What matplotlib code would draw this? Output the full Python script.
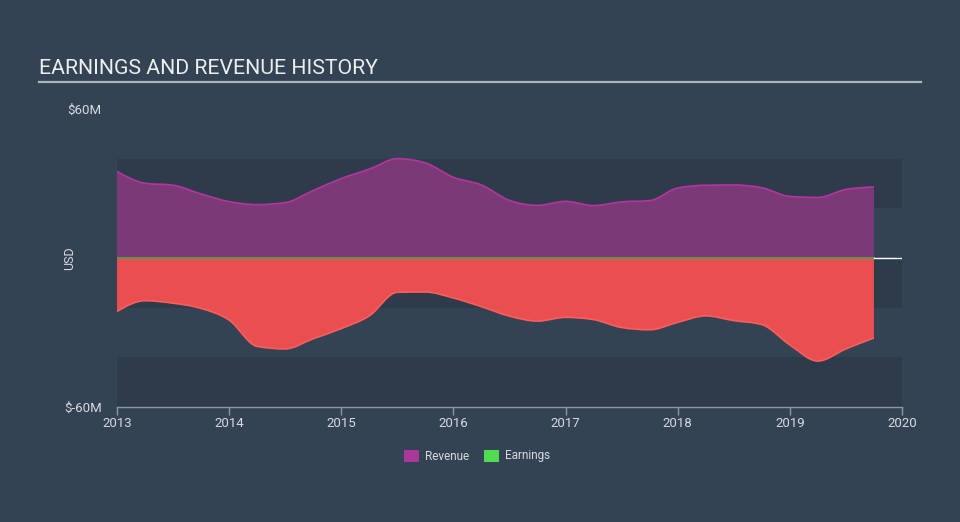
#!/usr/bin/env python3
"""Earnings and revenue history, dark card style."""

import numpy as np
import matplotlib
matplotlib.use("Agg")
import matplotlib.pyplot as plt
from matplotlib.path import Path
from matplotlib.patches import PathPatch, Rectangle

# Quarter ends (decimal years) and trailing values in $M.
quarters = [2013.00, 2013.25, 2013.50, 2013.75, 2014.00, 2014.25, 2014.50,
            2014.75, 2015.00, 2015.25, 2015.50, 2015.75, 2016.00, 2016.25,
            2016.50, 2016.75, 2017.00, 2017.25, 2017.50, 2017.75, 2018.00,
            2018.25, 2018.50, 2018.75, 2019.00, 2019.25, 2019.50, 2019.75]
revenue = [34.9, 30.1, 29.3, 25.8, 22.7, 21.5, 22.3, 27.2, 32.0, 35.8,
           40.0, 38.3, 32.5, 29.4, 23.2, 21.2, 22.8, 21.1, 22.6, 23.1,
           28.2, 29.3, 29.4, 28.3, 24.8, 24.4, 27.6, 28.6]
earnings = [-21.5, -17.2, -18.2, -20.3, -25.0, -35.6, -36.6, -32.5, -28.4,
            -23.3, -13.8, -13.7, -16.1, -19.6, -23.4, -25.4, -23.9, -24.8,
            -28.0, -28.9, -25.9, -23.3, -25.2, -26.8, -35.0, -41.5, -36.6,
            -32.2]

year_ticks = [2013, 2014, 2015, 2016, 2017, 2018, 2019, 2020]
y_ticks = [-60, 60]
y_labels = ["$-60M", "$60M"]

BG = "#344354"
BAND = "#2e3b4b"
REV_FILL = "#7b3a77"
REV_LINE = "#b3359f"
REV_KEY = "#a8399b"
EARN_FILL = "#e94f51"
EARN_LINE = "#ff5c5c"
EARN_KEY = "#4fdc50"
TEXT = "#d6dadf"
AXIS = "#8c97a4"

plt.rcParams["font.family"] = ["Roboto", "DejaVu Sans"]


def monotone_segments(xs, ys):
    """Bezier control points of a monotone cubic (like d3 curveMonotoneX)."""
    xs = np.asarray(xs, float)
    ys = np.asarray(ys, float)
    h = np.diff(xs)
    s = np.diff(ys) / h
    n = len(xs)
    t = np.zeros(n)
    for i in range(1, n - 1):
        p = (s[i - 1] * h[i] + s[i] * h[i - 1]) / (h[i - 1] + h[i])
        t[i] = (np.sign(s[i - 1]) + np.sign(s[i])) * min(
            abs(s[i - 1]), abs(s[i]), 0.5 * abs(p))
    t[0] = (3 * s[0] - t[1]) / 2
    t[-1] = (3 * s[-1] - t[-2]) / 2
    verts = [(xs[0], ys[0])]
    codes = [Path.MOVETO]
    for i in range(n - 1):
        d = h[i] / 3
        verts += [(xs[i] + d, ys[i] + t[i] * d),
                  (xs[i + 1] - d, ys[i + 1] - t[i + 1] * d),
                  (xs[i + 1], ys[i + 1])]
        codes += [Path.CURVE4] * 3
    return verts, codes


def draw_area(ax, xs, ys, fill, line):
    verts, codes = monotone_segments(xs, ys)
    area = verts + [(xs[-1], 0), (xs[0], 0), (xs[0], ys[0])]
    acodes = codes + [Path.LINETO, Path.LINETO, Path.CLOSEPOLY]
    ax.add_patch(PathPatch(Path(area, acodes), facecolor=fill,
                           edgecolor="none", zorder=2))
    ax.add_patch(PathPatch(Path(verts, codes), facecolor="none",
                           edgecolor=line, lw=1.2, zorder=3))


fig = plt.figure(figsize=(9.6, 5.22), dpi=100)
fig.patch.set_facecolor(BG)

# Title with underline
fig.text(39 / 960, 1 - 69 / 522, "EARNINGS AND REVENUE HISTORY",
         color="#eceef0", fontsize=15.3, va="center", ha="left")
fig.add_artist(plt.Line2D([39 / 960, 921 / 960], [1 - 82 / 522] * 2,
                          color="#aeb4ba", lw=1.6))

ax = fig.add_axes([117 / 960, 1 - 407 / 522, 785 / 960, 298 / 522])
ax.set_facecolor(BG)
ax.set_xlim(2013, 2020)
ax.set_ylim(-60, 60)

for lo, hi in ((20, 40), (-20, 0), (-60, -40)):
    ax.axhspan(lo, hi, color=BAND, lw=0, zorder=0)

draw_area(ax, quarters, revenue, REV_FILL, REV_LINE)
draw_area(ax, quarters, earnings, EARN_FILL, EARN_LINE)

ax.plot([quarters[0], quarters[-1]], [0, 0], color="#5f9350", lw=1.5,
        zorder=4)
ax.plot([quarters[-1], 2020], [0, 0], color="white", lw=1.0, zorder=4)

for side in ("top", "right", "left"):
    ax.spines[side].set_visible(False)
ax.spines["bottom"].set_color(AXIS)
ax.spines["bottom"].set_linewidth(1.0)

ax.set_xticks(year_ticks)
ax.set_xticklabels([str(y) for y in year_ticks])
ax.tick_params(axis="x", colors=AXIS, length=6, width=1, labelsize=9.5,
               labelcolor=TEXT, pad=1)
ax.set_yticks(y_ticks)
ax.set_yticklabels(y_labels)
ax.tick_params(axis="y", length=0, labelsize=9.5, labelcolor=TEXT, pad=11)
ax.set_ylabel("USD", color=TEXT, fontsize=9)
ax.yaxis.set_label_coords(-0.052, 0.5)

# Legend
for x0, key, label in ((404, REV_KEY, "Revenue"), (484, EARN_KEY, "Earnings")):
    fig.add_artist(Rectangle((x0 / 960, 1 - 462 / 522), 15 / 960, 12 / 522,
                             facecolor=key, edgecolor="none",
                             transform=fig.transFigure))
    fig.text((x0 + 21) / 960, 1 - 456 / 522, label, color=TEXT,
             fontsize=8.5, va="center", ha="left")

fig.savefig("out.png", dpi=100, facecolor=BG)
